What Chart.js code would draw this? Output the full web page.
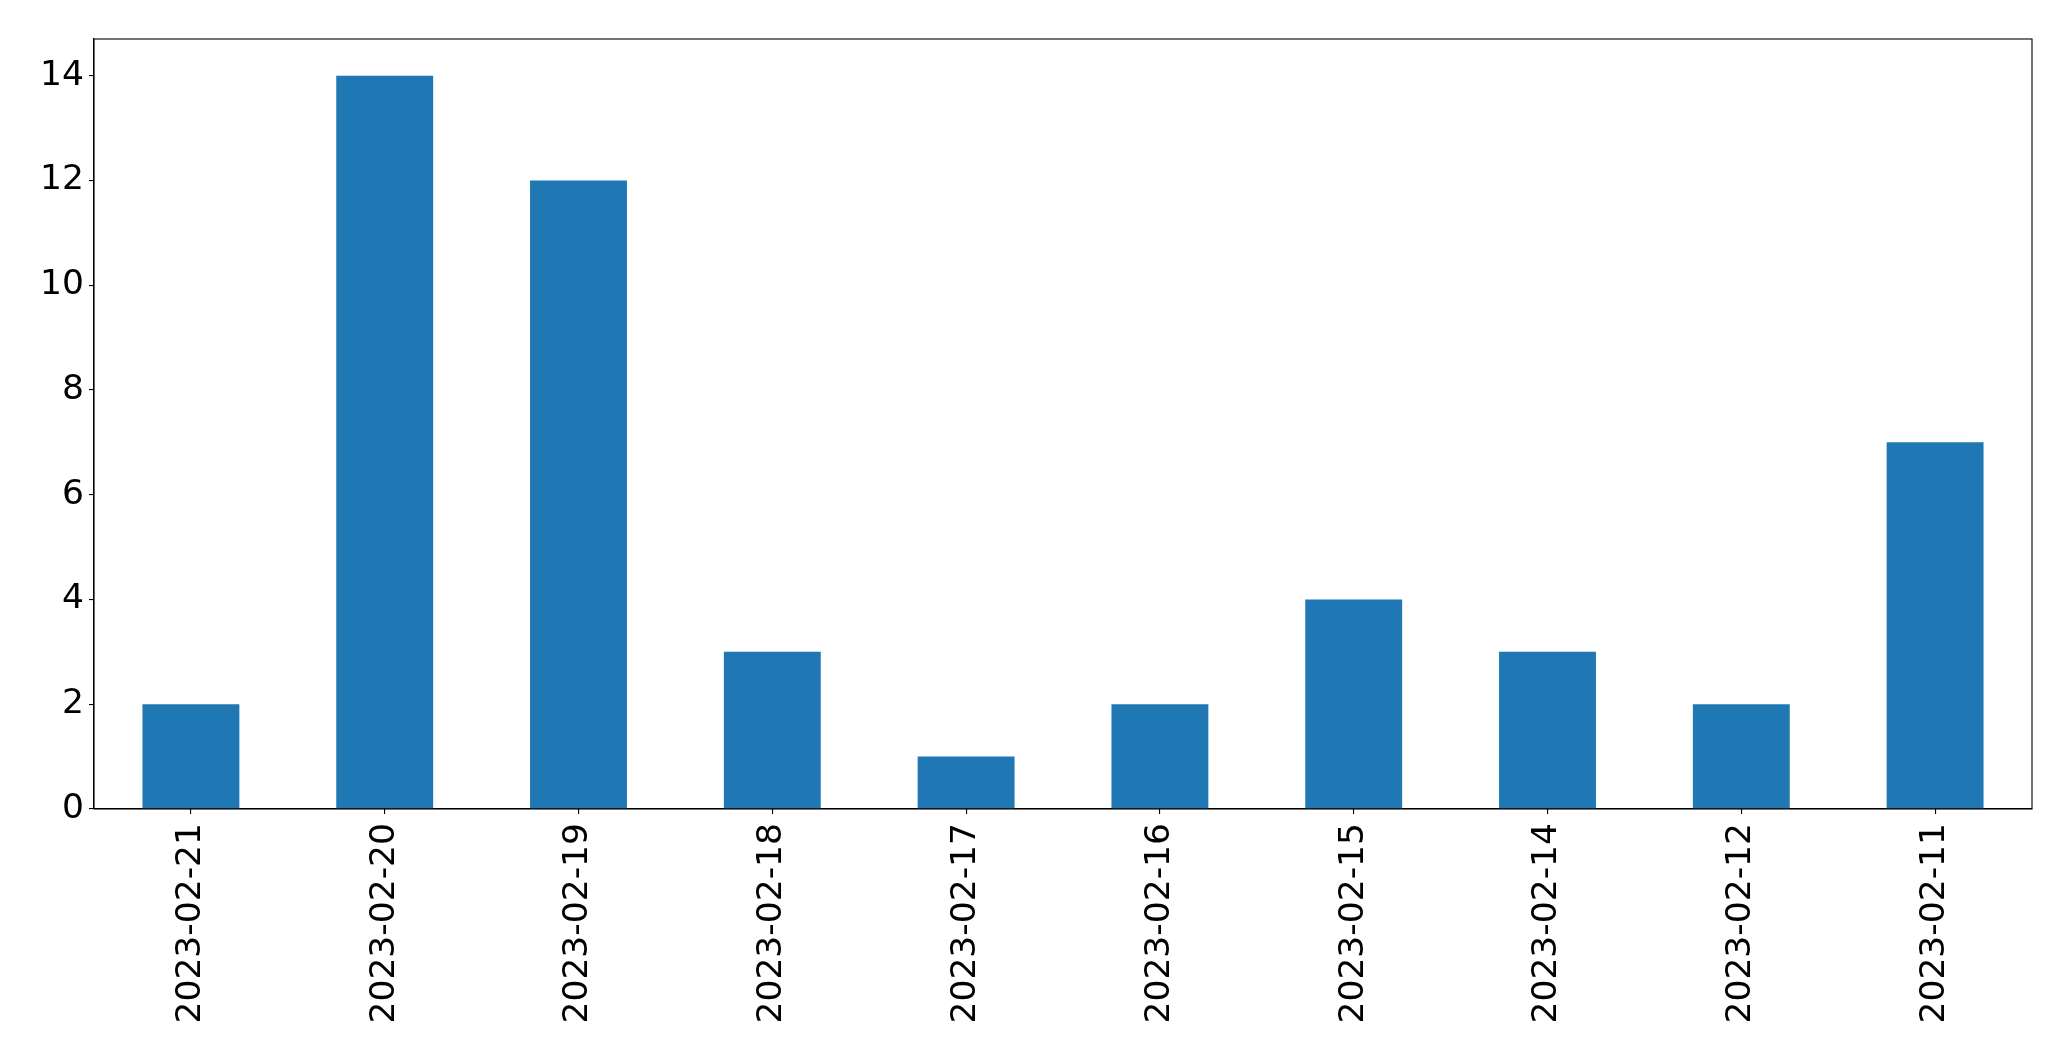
<!DOCTYPE html>
<html>
<head>
<meta charset="utf-8">
<script src="https://cdn.jsdelivr.net/npm/chart.js@4/dist/chart.umd.min.js"></script>
<style>
html,body{margin:0;padding:0;background:#fff;}
#wrap{width:2071px;height:1061px;position:relative;}
</style>
</head>
<body>
<div id="wrap"><canvas id="c" width="2071" height="1061"></canvas></div>
<script>
const categories = ["2023-02-21","2023-02-20","2023-02-19","2023-02-18","2023-02-17","2023-02-16","2023-02-15","2023-02-14","2023-02-12","2023-02-11"];
const counts = [2,14,12,3,1,2,4,3,2,7];
const yTicks = [0,2,4,6,8,10,12,14];

const frame = {
  id: 'frame',
  afterDraw(chart) {
    const {ctx, chartArea: a} = chart;
    ctx.save();
    ctx.strokeStyle = '#000';
    ctx.lineWidth = 1.1;
    ctx.strokeRect(a.left, a.top, a.right - a.left, a.bottom - a.top);
    ctx.restore();
  }
};

new Chart(document.getElementById('c'), {
  type: 'bar',
  data: {
    labels: categories,
    datasets: [{
      data: counts,
      backgroundColor: '#1f77b4',
      borderWidth: 0,
      categoryPercentage: 0.5,
      barPercentage: 1.0
    }]
  },
  plugins: [frame],
  options: {
    responsive: false,
    animation: false,
    layout: { padding: { top: 39, right: 39, left: 0, bottom: 0 } },
    plugins: { legend: { display: false }, tooltip: { enabled: false } },
    scales: {
      x: {
        offset: true,
        grid: { display: true, offset: false, drawOnChartArea: false, drawTicks: true, tickLength: 5, color: '#000', lineWidth: 1.1 },
        border: { display: true, color: '#000', width: 1.1 },
        ticks: { color: '#000', font: { family: 'DejaVu Sans', size: 34.5 }, minRotation: 90, maxRotation: 90, padding: 9, autoSkip: false },
        afterFit(s) { s.height = 252; }
      },
      y: {
        min: 0,
        max: 14.7,
        grid: { display: true, drawOnChartArea: false, drawTicks: true, tickLength: 5, color: '#000', lineWidth: 1.1 },
        border: { display: true, color: '#000', width: 1.1 },
        ticks: { color: '#000', font: { family: 'DejaVu Sans', size: 34.5 }, padding: 5 },
        afterBuildTicks(s) { s.ticks = yTicks.map(v => ({ value: v })); },
        afterFit(s) { s.width = 94; }
      }
    }
  }
});
</script>
</body>
</html>
